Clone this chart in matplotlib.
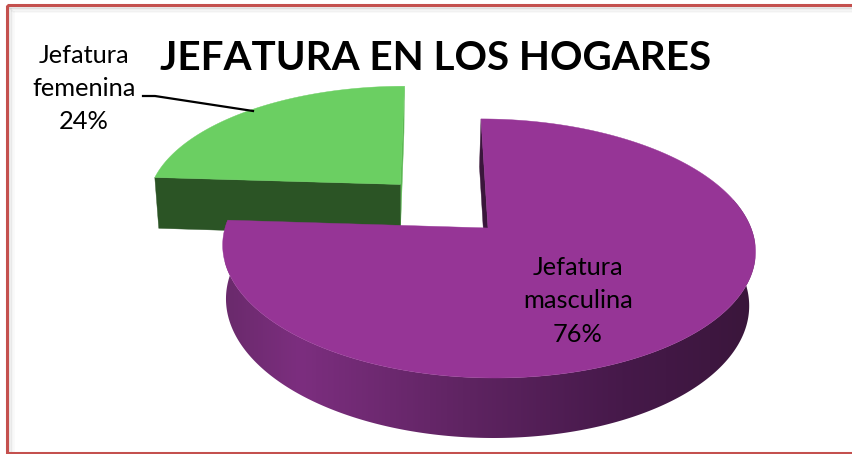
import numpy as np
import matplotlib
matplotlib.use("Agg")
import matplotlib.pyplot as plt
from matplotlib.colors import LinearSegmentedColormap
from matplotlib.patches import Rectangle, Polygon

categories = ["Jefatura masculina", "Jefatura femenina"]
values = [76, 24]
title_text = "JEFATURA EN LOS HOGARES"

plt.rcParams['font.family'] = ['Lato', 'DejaVu Sans']
W, H = 853, 454
fig = plt.figure(figsize=(W / 100, H / 100), dpi=100)
ax = fig.add_axes([0, 0, 1, 1])

# projection of a tilted disc (u, v in the disc plane, z = depth of the wall)
AX, AY = 488.0, 228.0
B, A, K, M, D, SH = 263.0, 126.3, 0.158, 0.018, 54.3, 7.0
ZSH = 1.5
EXPLODE = 0.5


def proj(u, v, z=0.0):
    w = 1 + K * v + M * z
    return AX + B * u / w - SH * v - ZSH * z, AY + (-A * v + D * z) / w


def arc(f0, f1, n=240):
    t = 2 * np.pi * np.linspace(f0, f1, n)
    return np.sin(t), np.cos(t)


total = sum(values)
frac_m = values[0] / total

PURPLE = "#963596"
GREEN = "#6bcf62"
DARK_GREEN = "#2b5425"
SIDE_GREEN = "#5cb853"
DARK_PURPLE = "#3a163b"
wall_cmap = LinearSegmentedColormap.from_list(
    "wall", [(0, "#6a2a6c"), (0.14, "#7c2e7f"), (0.45, "#5f2462"),
             (0.75, "#46194a"), (1, "#3a163b")])


def poly(pts, color, z):
    xs, ys = zip(*pts)
    ax.fill(xs, ys, color=color, lw=0.3, zorder=z)


# exploded slice: offset along the middle of its angular range
mid = frac_m + (1 - frac_m) / 2
ou = EXPLODE * np.sin(2 * np.pi * mid)
ov = EXPLODE * np.cos(2 * np.pi * mid)

# green slice
gu, gv = arc(frac_m, 1.0)
gu, gv = gu + ou, gv + ov
poly([proj(ou, 1 + ov), proj(ou, ov), proj(ou, ov, 1), proj(ou, 1 + ov, 1)], SIDE_GREEN, 2)
poly([proj(gu[0], gv[0]), proj(ou, ov), proj(ou, ov, 1), proj(gu[0], gv[0], 1)], DARK_GREEN, 3)
gx, gy = proj(np.r_[ou, gu], np.r_[ov, gv])
ax.fill(gx, gy, color=GREEN, lw=0.3, zorder=4)

# purple slice: inner wall, outer wall with horizontal gradient, top
poly([proj(0, 1), proj(0, 0), proj(0, 0, 1), proj(0, 1, 1)], DARK_PURPLE, 5)
pu, pv = arc(0.0, frac_m, 400)
tx, ty = proj(pu, pv)
bx, by = proj(pu, pv, 1)
wall_outline = np.c_[np.r_[tx, bx[::-1]], np.r_[ty, by[::-1]]]
wall_patch = Polygon(wall_outline, closed=True, transform=ax.transData, fc="none", ec="none")
ax.add_patch(wall_patch)
im = ax.imshow(np.linspace(0, 1, 512)[None, :], cmap=wall_cmap, aspect="auto",
               extent=(225, 755, 450, 200), zorder=6, interpolation="bilinear")
im.set_clip_path(wall_patch)
px, py = proj(np.r_[0, pu], np.r_[0, pv])
ax.fill(px, py, color=PURPLE, lw=0.3, zorder=7)

# labels
ax.text(578, 301, f"Jefatura\nmasculina\n{values[0]}%", ha="center", va="center",
        fontsize=18.3, linespacing=1.55, color="black", zorder=9)
ax.text(84, 88.5, f"Jefatura\nfemenina\n{values[1]}%", ha="center", va="center",
        fontsize=18.3, linespacing=1.55, color="black", zorder=9)
ax.plot([143, 155, 253], [96, 96, 111], color="black", lw=1.6, zorder=9)
ax.text(436, 58, title_text, ha="center", va="center", fontsize=29.1, fontweight="bold",
        color="black", zorder=9)

# frame with its soft shadow
for i, a in enumerate([0.16, 0.11, 0.07, 0.04]):
    ax.plot([9.5 + i * 1.5, W], [7.5 + i * 1.5] * 2, color="#808080", alpha=a, lw=1.5, zorder=1)
    ax.plot([9.5 + i * 1.5] * 2, [7.5 + i * 1.5, 451], color="#808080", alpha=a, lw=1.5, zorder=1)
ax.add_patch(Rectangle((7, 5), W, 447.5, fill=False, edgecolor="#c4504e", lw=2.2, zorder=10))

ax.set_xlim(0, W)
ax.set_ylim(H, 0)
ax.axis("off")

fig.savefig("out.png", dpi=100, facecolor="white")
